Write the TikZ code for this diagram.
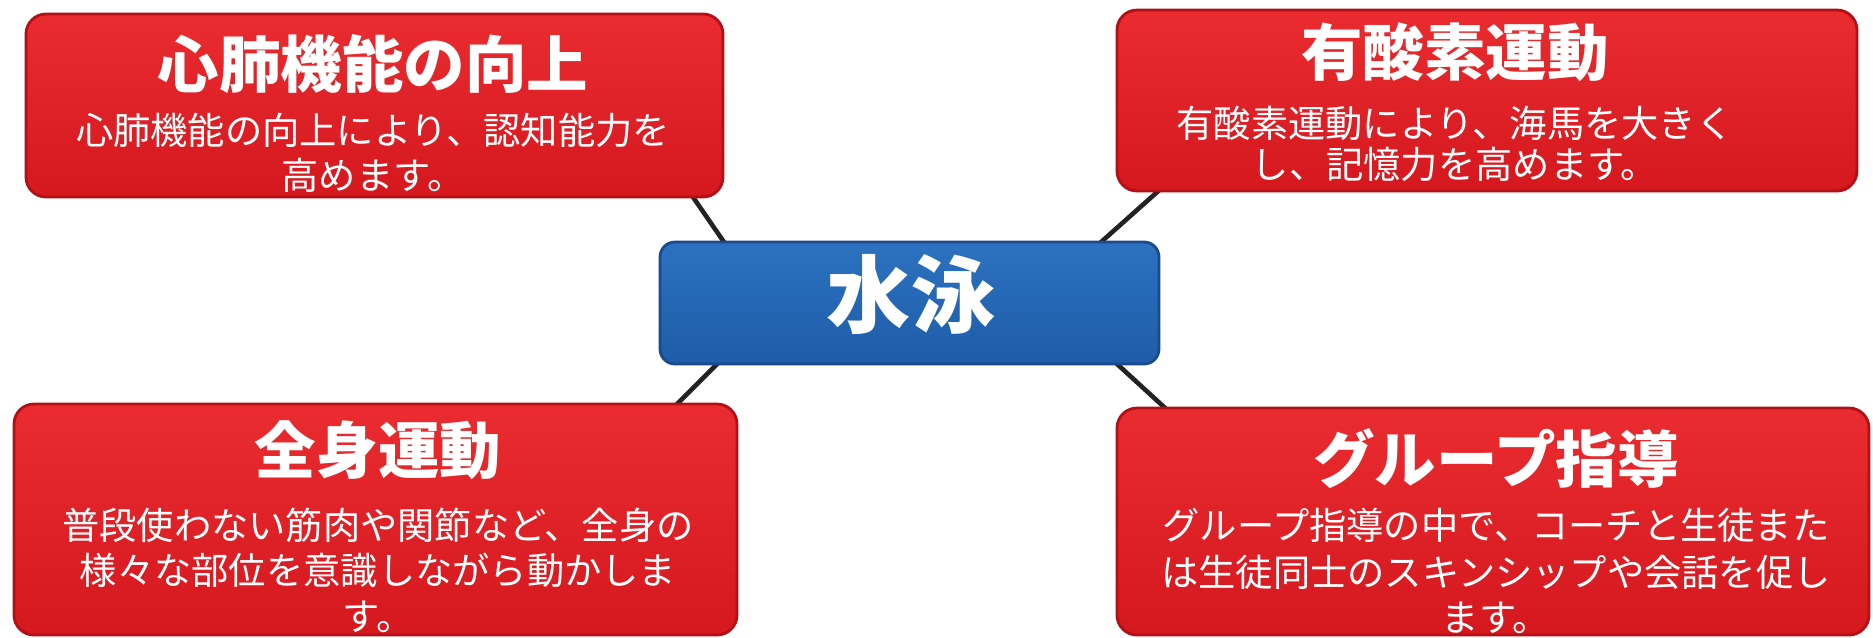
\documentclass[tikz,border=0pt]{standalone}
\usepackage{fontspec}
\newfontfamily\jp{Noto Sans CJK JP}
\usetikzlibrary{calc}
\definecolor{boxredtop}{RGB}{234,44,48}
\definecolor{boxredbot}{RGB}{212,24,30}
\definecolor{boxredline}{RGB}{178,16,22}
\definecolor{boxbluetop}{RGB}{44,114,192}
\definecolor{boxbluebot}{RGB}{30,92,168}
\definecolor{boxblueline}{RGB}{26,74,140}
\definecolor{linkcol}{RGB}{34,34,34}
\tikzset{
  redbox/.style={draw=boxredline, line width=0.8pt, rounded corners=0.2cm,
    top color=boxredtop, bottom color=boxredbot, inner sep=0pt},
  bluebox/.style={draw=boxblueline, line width=0.8pt, rounded corners=0.15cm,
    top color=boxbluetop, bottom color=boxbluebot, inner sep=0pt},
  ttl/.style={text=white, inner sep=0pt, font=\jp\bfseries\fontsize{17.5pt}{20pt}\selectfont,
    text height=0.88em, text depth=0.12em},
  bdy/.style={text=white, inner sep=0pt, font=\jp\fontsize{10.6pt}{12pt}\selectfont,
    text height=0.88em, text depth=0.12em},
  ctr/.style={text=white, inner sep=0pt, font=\jp\bfseries\fontsize{24pt}{28pt}\selectfont,
    text height=0.88em, text depth=0.12em},
  link/.style={draw=linkcol, line width=1.3pt}
}
\begin{document}
\begin{tikzpicture}
\fill[white] (0,0) rectangle (18.73,-6.37);
\useasboundingbox (0,0) rectangle (18.73,-6.37);

\path (3.745,-1.055) coordinate (tlc);
\path (14.87,-1.005) coordinate (trc);
\path (9.095,-3.03) coordinate (cc);
\path (3.755,-5.195) coordinate (blc);
\path (14.93,-5.215) coordinate (brc);

% invisible nodes for anchors
\node[minimum width=6.97cm, minimum height=1.83cm, inner sep=0pt] (tl) at (tlc) {};
\node[minimum width=7.40cm, minimum height=1.81cm, inner sep=0pt] (tr) at (trc) {};
\node[minimum width=4.99cm, minimum height=1.22cm, inner sep=0pt] (c) at (cc) {};
\node[minimum width=7.23cm, minimum height=2.31cm, inner sep=0pt] (bl) at (blc) {};
\node[minimum width=7.52cm, minimum height=2.27cm, inner sep=0pt] (br) at (brc) {};

% connectors
\draw[link] ($(tl.south east)+(-0.42,0.17)$) -- ($(c.north west)+(0.80,-0.23)$);
\draw[link] ($(tr.south west)+(0.76,0.31)$) -- ($(c.north east)+(-0.78,-0.18)$);
\draw[link] ($(c.south west)+(0.91,0.34)$) -- ($(bl.north east)+(-0.96,-0.36)$);
\draw[link] ($(c.south east)+(-0.79,0.34)$) -- ($(br.north west)+(0.83,-0.32)$);

% visible boxes
\node[redbox, minimum width=6.97cm, minimum height=1.83cm] (tlbox) at (tl) {};
\node[redbox, minimum width=7.40cm, minimum height=1.81cm] (trbox) at (tr) {};
\node[bluebox, minimum width=4.99cm, minimum height=1.22cm] (cbox) at (c) {};
\node[redbox, minimum width=7.23cm, minimum height=2.31cm] (blbox) at (bl) {};
\node[redbox, minimum width=7.52cm, minimum height=2.27cm] (brbox) at (br) {};

% texts
\node[ttl] (tlT) at (3.73,-0.74) {心肺機能の向上};
\node[bdy] (tlB1) at (3.73,-1.31) {心肺機能の向上により、認知能力を};
\node[bdy] (tlB2) at (3.73,-1.76) {高めます。};

\node[ttl] (trT) at (14.55,-0.62) {有酸素運動};
\node[bdy] (trB1) at (14.55,-1.24) {有酸素運動により、海馬を大きく};
\node[bdy] (trB2) at (14.55,-1.65) {し、記憶力を高めます。};

\node[ctr] (cT) at (9.11,-3.13) {水泳};

\node[ttl] (blT) at (3.78,-4.60) {全身運動};
\node[bdy] (blB1) at (3.78,-5.26) {普段使わない筋肉や関節など、全身の};
\node[bdy] (blB2) at (3.78,-5.71) {様々な部位を意識しながら動かしま};
\node[bdy] (blB3) at (3.78,-6.17) {す。};

\node[ttl] (brT) at (14.96,-4.69) {グループ指導};
\node[bdy] (brB1) at (14.96,-5.26) {グループ指導の中で、コーチと生徒また};
\node[bdy] (brB2) at (14.96,-5.73) {は生徒同士のスキンシップや会話を促し};
\node[bdy] (brB3) at (14.96,-6.18) {ます。};
\end{tikzpicture}
\end{document}
